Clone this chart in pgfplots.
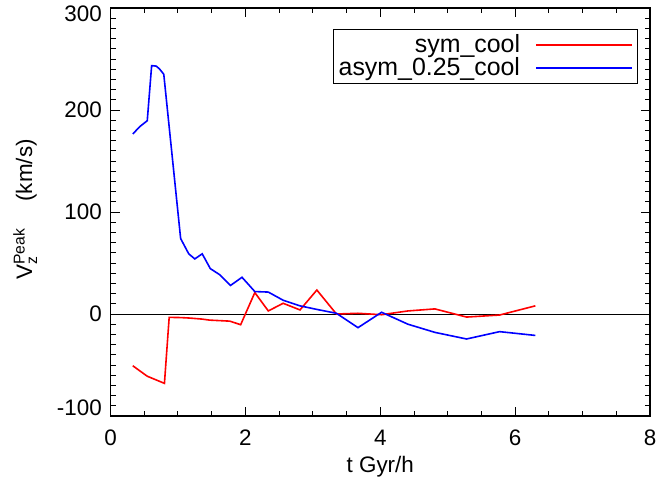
\documentclass[border=0pt]{standalone}
\usepackage{pgfplots}
\pgfplotsset{compat=1.18}
\usepackage{amsmath}
\usepackage{fontspec}
\setmainfont{Liberation Sans}
\usetikzlibrary{calc}
\begin{document}
\fontsize{22.5}{26}\selectfont
\begin{tikzpicture}
\begin{axis}[
  scale only axis,
  width=539.5bp, height=408bp,
  xmin=0, xmax=8, ymin=-100, ymax=300,
  xtick={0,2,4,6,8}, ytick={-100,0,100,200,300},
  yticklabels={\smash{\raisebox{8bp}{-100}}\vphantom{0}, 0, 100, 200, \smash{\raisebox{-6bp}{300}}\vphantom{0}},
  minor x tick num=3, minor y tick num=9,
  major tick length=9bp, minor tick length=5bp,
  tick style={black, line width=0.9bp},
  axis line style={line width=1.1bp},
  tick pos=both,
  /pgf/number format/assume math mode=true,
  xticklabel style={inner sep=0pt, yshift=-14bp},
  yticklabel style={inner sep=0pt, xshift=-8.5bp},
  xlabel={t Gyr/h},
  xlabel style={at={(axis description cs:0.5,-0.125)}, anchor=center},
  ylabel={V$^{\text{Peak}}_{\text{z}}$\hspace{27bp}(km/s)},
  ylabel style={at={(axis description cs:-0.158,0.506)}, anchor=center},
  legend plot pos=right,
  legend cell align=right,
  legend image code/.code={\path (0bp,0bp) -- (96bp,0bp); \draw[#1] (0bp,0bp) -- (80bp,0bp);},
  legend style={at={(0.977,0.948)}, anchor=north east, draw=black, line width=0.9bp,
    font=\fontsize{25}{26}\selectfont, row sep=-1bp, column sep=14bp,
    inner xsep=4bp, inner ysep=3bp,
    nodes={inner sep=1.5bp}},
]
\addplot[black, line width=1bp, forget plot] coordinates {(0,0) (8,0)};
\addplot[red, line width=1.6bp] coordinates {
(0.33,-50.7) (0.44,-56) (0.545,-61) (0.80,-68) (0.87,-3.3) (1.04,-3.5) (1.18,-4)
(1.36,-5) (1.47,-6) (1.62,-6.5) (1.77,-7) (1.93,-10.5) (2.14,21) (2.34,3)
(2.56,10.5) (2.81,4) (3.06,23.5) (3.35,0) (3.67,0.7) (4.02,-0.7) (4.41,3)
(4.81,5) (5.28,-3) (5.77,-1) (6.30,8)
};
\addlegendentry{sym\_cool}
\addplot[blue, line width=1.6bp] coordinates {
(0.33,176.5) (0.44,184) (0.545,189.5) (0.61,243.5) (0.68,243) (0.73,240) (0.79,235)
(1.04,74) (1.16,59) (1.25,54) (1.36,59) (1.48,44.5) (1.62,38.5) (1.78,28)
(1.95,36) (2.14,22) (2.34,21.5) (2.56,13.5) (2.81,8) (3.06,4.5) (3.35,0.7)
(3.67,-13.4) (4.02,1.7) (4.41,-10) (4.81,-18) (5.28,-24.5) (5.77,-17.3) (6.30,-21)
};
\addlegendentry{asym\_0.25\_cool}
\end{axis}
\pgfresetboundingbox
\useasboundingbox ($(current axis.south west)+(-110.5bp,-69bp)$) rectangle ($(current axis.north east)+(8bp,8bp)$);
\end{tikzpicture}
\end{document}
